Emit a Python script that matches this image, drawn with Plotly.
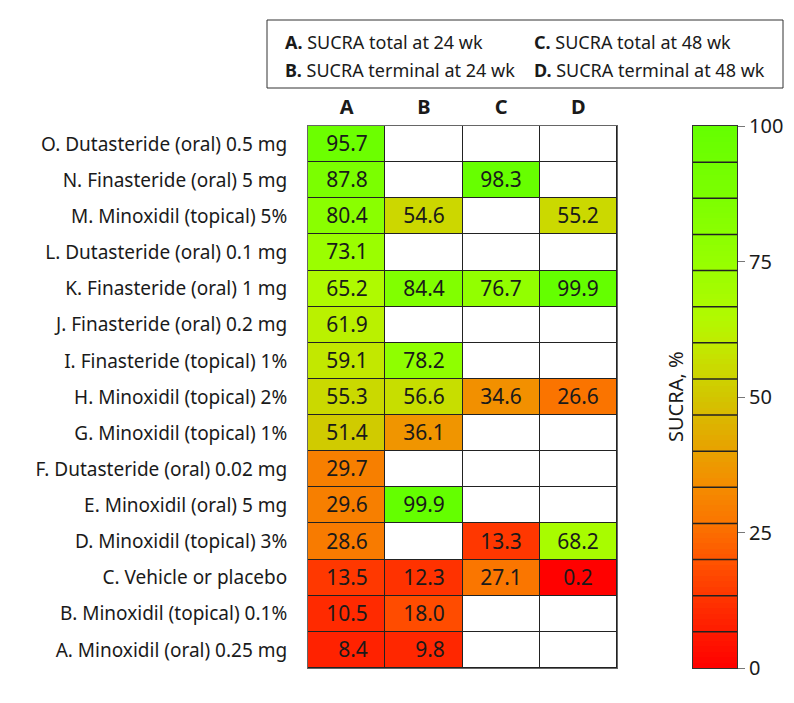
import plotly.graph_objects as go

# Treatments, listed top to bottom as in the chart
treatments = [
    "O. Dutasteride (oral) 0.5 mg",
    "N. Finasteride (oral) 5 mg",
    "M. Minoxidil (topical) 5%",
    "L. Dutasteride (oral) 0.1 mg",
    "K. Finasteride (oral) 1 mg",
    "J. Finasteride (oral) 0.2 mg",
    "I. Finasteride (topical) 1%",
    "H. Minoxidil (topical) 2%",
    "G. Minoxidil (topical) 1%",
    "F. Dutasteride (oral) 0.02 mg",
    "E. Minoxidil (oral) 5 mg",
    "D. Minoxidil (topical) 3%",
    "C. Vehicle or placebo",
    "B. Minoxidil (topical) 0.1%",
    "A. Minoxidil (oral) 0.25 mg",
]
columns = ["A", "B", "C", "D"]
column_desc = [
    "SUCRA total at 24 wk",
    "SUCRA terminal at 24 wk",
    "SUCRA total at 48 wk",
    "SUCRA terminal at 48 wk",
]

sucra_total_24 = [95.7, 87.8, 80.4, 73.1, 65.2, 61.9, 59.1, 55.3, 51.4, 29.7, 29.6, 28.6, 13.5, 10.5, 8.4]
sucra_terminal_24 = [None, None, 54.6, None, 84.4, None, 78.2, 56.6, 36.1, None, 99.9, None, 12.3, 18.0, 9.8]
sucra_total_48 = [None, 98.3, None, None, 76.7, None, None, 34.6, None, None, None, 13.3, 27.1, None, None]
sucra_terminal_48 = [None, None, 55.2, None, 99.9, None, None, 26.6, None, None, None, 68.2, 0.2, None, None]

# colour bar: 15 boxed steps from 0 to 100, shaded continuously
cbar_edges = [0, 6.67, 13.33, 20, 26.67, 33.33, 40, 46.67, 53.33, 60, 66.67, 73.33, 80, 86.67, 93.33, 100]
cbar_ticks = [0, 25, 50, 75, 100]

SUCRA_SCALE = [
    [0.0, "rgb(255,0,0)"],
    [0.10, "rgb(255,40,0)"],
    [0.20, "rgb(255,85,0)"],
    [0.27, "rgb(250,118,0)"],
    [0.35, "rgb(242,145,0)"],
    [0.42, "rgb(228,168,0)"],
    [0.50, "rgb(210,198,0)"],
    [0.55, "rgb(203,216,0)"],
    [0.60, "rgb(192,236,0)"],
    [0.65, "rgb(176,250,0)"],
    [0.75, "rgb(150,255,0)"],
    [0.85, "rgb(128,255,0)"],
    [1.0, "rgb(100,255,0)"],
]

# page body adds an 8 px offset, so the figure is drawn slightly smaller
OFF = 8
W, H = 794 - OFF, 703 - OFF
FONT = "Noto Sans"
INK = "#1a1a1a"


def px_x(x):
    return (x - OFF) / W


def px_y(y):
    return 1 - (y - OFF) / H


def cell_label(v):
    if v is None:
        return ""
    s = f"{v:.1f}"
    return "\u2007" + s if 1 <= v < 10 else s


rows = list(zip(sucra_total_24, sucra_terminal_24, sucra_total_48, sucra_terminal_48))
z = [list(r) for r in rows]
labels = [[cell_label(v) for v in r] for r in rows]
blank = [[0] * len(columns) for _ in treatments]

fig = go.Figure()

# white background cells (empty entries stay white)
fig.add_trace(go.Heatmap(
    x=columns, y=treatments, z=blank,
    colorscale=[[0, "white"], [1, "white"]], showscale=False,
    xgap=1, ygap=1, hoverinfo="skip",
))

fig.add_trace(go.Heatmap(
    x=columns, y=treatments, z=z, text=labels,
    colorscale=SUCRA_SCALE, zmin=0, zmax=100, showscale=False,
    xgap=1, ygap=1,
    texttemplate="%{text}",
    textfont=dict(family=FONT, size=21, color=INK),
    hovertemplate="%{y}<br>%{x}: %{z:.1f}<extra></extra>",
))

# colour bar drawn as its own heatmap, one row per SUCRA point
cbar_y = list(range(0, 101))
fig.add_trace(go.Heatmap(
    x=[0], y=cbar_y, z=[[v + 0.5] for v in cbar_y[:-1]],
    colorscale=SUCRA_SCALE, zmin=0, zmax=100, showscale=False,
    xaxis="x2", yaxis="y2", hoverinfo="skip",
))
for e in cbar_edges[1:-1]:
    fig.add_shape(
        type="line", xref="x2 domain", yref="y2", x0=0, x1=1, y0=e, y1=e,
        line=dict(color="#222", width=1.5), layer="above",
    )

grid_dom_y = [px_y(668), px_y(126)]

fig.update_layout(
    width=W, height=H,
    margin=dict(l=0, r=0, t=0, b=0),
    paper_bgcolor="white",
    plot_bgcolor="#222",
    font=dict(family=FONT, color=INK),
    xaxis=dict(
        domain=[px_x(308), px_x(617)], side="top", automargin=False,
        tickfont=dict(size=20, weight="bold"), ticks="",
        ticklabelstandoff=3,
        showline=True, mirror=True, linecolor="#666", linewidth=1,
        showgrid=False, zeroline=False,
    ),
    yaxis=dict(
        domain=grid_dom_y, autorange="reversed", automargin=False,
        tickfont=dict(size=19), ticks="", ticklabelstandoff=16,
        showline=True, mirror=True, linecolor="#666", linewidth=1,
        showgrid=False, zeroline=False,
    ),
    xaxis2=dict(
        domain=[px_x(693), px_x(737)], anchor="y2", automargin=False,
        showticklabels=False, ticks="", showgrid=False, zeroline=False,
        showline=True, mirror=True, linecolor="#333", linewidth=1,
    ),
    yaxis2=dict(
        domain=grid_dom_y, anchor="x2", side="right", range=[0, 100],
        automargin=False,
        tickvals=cbar_ticks, ticks="outside", ticklen=7, tickcolor="#777",
        tickfont=dict(size=20), showgrid=False, zeroline=False,
        showline=True, mirror=True, linecolor="#333", linewidth=1,
    ),
)

# legend box explaining the column letters
fig.add_shape(
    type="rect", xref="paper", yref="paper",
    x0=px_x(267), x1=px_x(783), y0=px_y(88), y1=px_y(20),
    line=dict(color="#333", width=1), fillcolor="rgba(0,0,0,0)",
)
legend_pos = [(283, 42), (283, 70), (532, 42), (532, 70)]
for letter, desc, (lx, ly) in zip(columns, column_desc, legend_pos):
    fig.add_annotation(
        x=px_x(lx), y=px_y(ly), xref="paper", yref="paper",
        xanchor="left", yanchor="middle", showarrow=False,
        text=f"<b>{letter}.</b> {desc}", font=dict(size=18, color=INK),
    )

fig.add_annotation(
    x=px_x(676), y=(grid_dom_y[0] + grid_dom_y[1]) / 2, xref="paper", yref="paper",
    text="SUCRA, %", textangle=-90, showarrow=False,
    xanchor="center", yanchor="middle", font=dict(size=20, color=INK),
)

fig.write_html("out.html")
